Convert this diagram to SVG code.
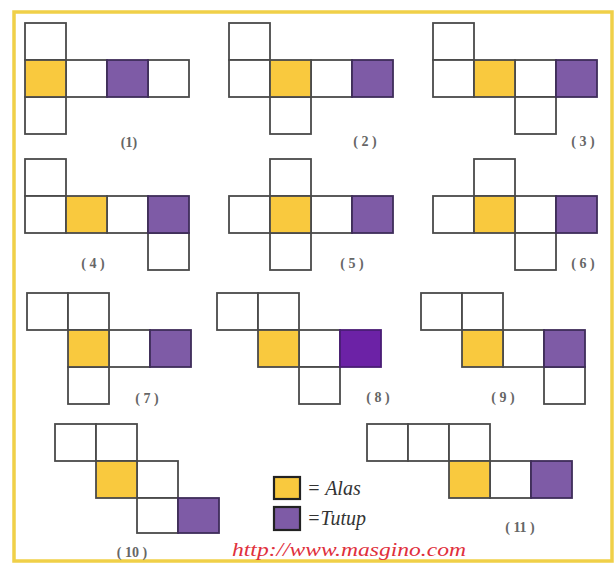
<svg xmlns="http://www.w3.org/2000/svg" width="616" height="565" viewBox="0 0 616 565">
<style>
.c{fill:#fff;stroke:#4a4a4a;stroke-width:1.8}
.y{fill:#f9c93e;stroke:#4a4a4a;stroke-width:1.8}
.p{fill:#7e5ba6;stroke:#3f2d5a;stroke-width:1.8}
.p2{fill:#6c22a6;stroke:#4a1d75;stroke-width:1.8}
.lb{font-family:"Liberation Serif",serif;font-size:14px;font-weight:bold;fill:#666;text-anchor:middle}
.lg{font-family:"Liberation Serif",serif;font-size:20px;font-style:italic;fill:#333}
</style>
<rect x="0" y="0" width="616" height="565" fill="#fff"/>
<rect x="14" y="12" width="598" height="549" fill="#fff" stroke="#f0d048" stroke-width="3.5"/>
<g id="net1">
<rect class="c" x="25" y="23" width="41" height="37"/>
<rect class="c" x="66" y="60" width="41" height="37"/>
<rect class="c" x="148" y="60" width="41" height="37"/>
<rect class="c" x="25" y="97" width="41" height="37"/>
<rect class="y" x="25" y="60" width="41" height="37"/>
<rect class="p" x="107" y="60" width="41" height="37"/>
<text class="lb" x="129" y="147">(1)</text>
</g>
<g id="net2">
<rect class="c" x="229" y="23" width="41" height="37"/>
<rect class="c" x="229" y="60" width="41" height="37"/>
<rect class="c" x="311" y="60" width="41" height="37"/>
<rect class="c" x="270" y="97" width="41" height="37"/>
<rect class="y" x="270" y="60" width="41" height="37"/>
<rect class="p" x="352" y="60" width="41" height="37"/>
<text class="lb" x="365" y="146">( 2 )</text>
</g>
<g id="net3">
<rect class="c" x="433" y="23" width="41" height="37"/>
<rect class="c" x="433" y="60" width="41" height="37"/>
<rect class="c" x="515" y="60" width="41" height="37"/>
<rect class="c" x="515" y="97" width="41" height="37"/>
<rect class="y" x="474" y="60" width="41" height="37"/>
<rect class="p" x="556" y="60" width="41" height="37"/>
<text class="lb" x="583" y="146">( 3 )</text>
</g>
<g id="net4">
<rect class="c" x="25" y="159" width="41" height="37"/>
<rect class="c" x="25" y="196" width="41" height="37"/>
<rect class="c" x="107" y="196" width="41" height="37"/>
<rect class="c" x="148" y="233" width="41" height="37"/>
<rect class="y" x="66" y="196" width="41" height="37"/>
<rect class="p" x="148" y="196" width="41" height="37"/>
<text class="lb" x="93" y="268">( 4 )</text>
</g>
<g id="net5">
<rect class="c" x="270" y="159" width="41" height="37"/>
<rect class="c" x="229" y="196" width="41" height="37"/>
<rect class="c" x="311" y="196" width="41" height="37"/>
<rect class="c" x="270" y="233" width="41" height="37"/>
<rect class="y" x="270" y="196" width="41" height="37"/>
<rect class="p" x="352" y="196" width="41" height="37"/>
<text class="lb" x="352" y="268">( 5 )</text>
</g>
<g id="net6">
<rect class="c" x="474" y="159" width="41" height="37"/>
<rect class="c" x="433" y="196" width="41" height="37"/>
<rect class="c" x="515" y="196" width="41" height="37"/>
<rect class="c" x="515" y="233" width="41" height="37"/>
<rect class="y" x="474" y="196" width="41" height="37"/>
<rect class="p" x="556" y="196" width="41" height="37"/>
<text class="lb" x="583" y="268">( 6 )</text>
</g>
<g id="net7">
<rect class="c" x="27" y="293" width="41" height="37"/>
<rect class="c" x="68" y="293" width="41" height="37"/>
<rect class="c" x="109" y="330" width="41" height="37"/>
<rect class="c" x="68" y="367" width="41" height="37"/>
<rect class="y" x="68" y="330" width="41" height="37"/>
<rect class="p" x="150" y="330" width="41" height="37"/>
<text class="lb" x="147" y="403">( 7 )</text>
</g>
<g id="net8">
<rect class="c" x="217" y="293" width="41" height="37"/>
<rect class="c" x="258" y="293" width="41" height="37"/>
<rect class="c" x="299" y="330" width="41" height="37"/>
<rect class="c" x="299" y="367" width="41" height="37"/>
<rect class="y" x="258" y="330" width="41" height="37"/>
<rect class="p2" x="340" y="330" width="41" height="37"/>
<text class="lb" x="378" y="402">( 8 )</text>
</g>
<g id="net9">
<rect class="c" x="421" y="293" width="41" height="37"/>
<rect class="c" x="462" y="293" width="41" height="37"/>
<rect class="c" x="503" y="330" width="41" height="37"/>
<rect class="c" x="544" y="367" width="41" height="37"/>
<rect class="y" x="462" y="330" width="41" height="37"/>
<rect class="p" x="544" y="330" width="41" height="37"/>
<text class="lb" x="503" y="402">( 9 )</text>
</g>
<g id="net10">
<rect class="c" x="55" y="424" width="41" height="37"/>
<rect class="c" x="96" y="424" width="41" height="37"/>
<rect class="c" x="137" y="461" width="41" height="37"/>
<rect class="c" x="137" y="498" width="41" height="35"/>
<rect class="y" x="96" y="461" width="41" height="37"/>
<rect class="p" x="178" y="498" width="41" height="35"/>
<text class="lb" x="132" y="557">( 10 )</text>
</g>
<g id="net11">
<rect class="c" x="367" y="424" width="41" height="37"/>
<rect class="c" x="408" y="424" width="41" height="37"/>
<rect class="c" x="449" y="424" width="41" height="37"/>
<rect class="c" x="490" y="461" width="41" height="37"/>
<rect class="y" x="449" y="461" width="41" height="37"/>
<rect class="p" x="531" y="461" width="41" height="37"/>
<text class="lb" x="520" y="532">( 11 )</text>
</g>
<g id="legend">
<rect x="274" y="477" width="26" height="22" fill="#f9c93e" stroke="#222" stroke-width="2.2"/>
<rect x="274" y="507" width="26" height="23" fill="#7e5ba6" stroke="#222" stroke-width="2.2"/>
<text class="lg" x="307" y="495">= Alas</text>
<text class="lg" x="307" y="525">=Tutup</text>
</g>
<text x="232" y="556" font-family="Liberation Serif, serif" font-size="19" font-style="italic" fill="#e0303c" textLength="234" lengthAdjust="spacingAndGlyphs">http://www.masgino.com</text>
</svg>
